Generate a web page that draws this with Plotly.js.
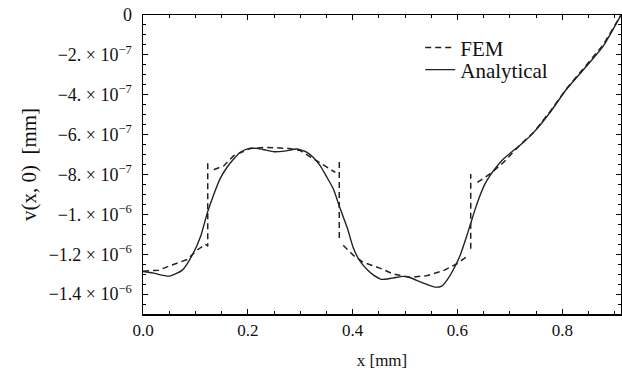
<!DOCTYPE html>
<html>
<head>
<meta charset="utf-8">
<script src="https://cdn.plot.ly/plotly-3.0.1.min.js"></script>
<style>html,body{margin:0;padding:0;background:#fff;}#chart{width:622px;height:373px;}</style>
</head>
<body>
<div id="chart"></div>
<script>
// Analytical solution v(x,0) [mm], values in units of 1e-6 mm
const anaX = [0, 0.02, 0.05, 0.075, 0.095, 0.11, 0.123, 0.135, 0.147, 0.16, 0.173, 0.185, 0.198, 0.217, 0.235, 0.25, 0.27, 0.294, 0.313, 0.325, 0.338, 0.35, 0.363, 0.376, 0.39, 0.4015, 0.415, 0.427, 0.44, 0.455, 0.475, 0.497, 0.51, 0.522, 0.54, 0.557, 0.57, 0.58, 0.592, 0.605, 0.615, 0.624, 0.633, 0.643, 0.652, 0.662, 0.675, 0.6875, 0.7066, 0.72, 0.745, 0.7765, 0.808, 0.8465, 0.878, 0.912];
const anaY = [-1.287, -1.295, -1.31, -1.28, -1.2, -1.11, -0.99, -0.9, -0.822, -0.765, -0.7225, -0.69, -0.6725, -0.669, -0.678, -0.686, -0.683, -0.6725, -0.689, -0.715, -0.756, -0.81, -0.872, -0.97, -1.07, -1.17, -1.239, -1.275, -1.305, -1.326, -1.32, -1.311, -1.318, -1.331, -1.35, -1.365, -1.36, -1.33, -1.278, -1.206, -1.13, -1.056, -0.98, -0.906, -0.85, -0.806, -0.76, -0.7225, -0.68, -0.652, -0.59, -0.489, -0.3725, -0.256, -0.156, 0];

// FEM solution (null = break between elements)
const femX = [0, 0.03, 0.052, 0.084, 0.103, 0.119, 0.1235, 0.1235, null, 0.135, 0.154, 0.173, 0.205, 0.236, 0.275, 0.30, 0.332, 0.355, 0.367, null, 0.3745, 0.3745, null, 0.382, 0.4015, 0.42, 0.452, 0.478, 0.51, 0.541, 0.573, 0.599, 0.619, null, 0.6253, 0.6253, null, 0.638, 0.662, 0.6875, 0.7066, 0.72, 0.745, 0.7765, 0.808, 0.8465, 0.878, 0.912];
const femY = [-1.285, -1.28, -1.257, -1.227, -1.18, -1.15, -1.16, -0.73, null, -0.776, -0.757, -0.706, -0.669, -0.664, -0.669, -0.68, -0.73, -0.77, -0.79, null, -0.737, -1.125, null, -1.155, -1.206, -1.24, -1.27, -1.30, -1.316, -1.308, -1.283, -1.248, -1.21, null, -1.1725, -0.7975, null, -0.84, -0.7975, -0.74, -0.69, -0.65, -0.59, -0.485, -0.37, -0.25, -0.15, 0];

const xTickVals = [0, 0.2, 0.4, 0.6, 0.8];
const xTickText = ["0.0", "0.2", "0.4", "0.6", "0.8"];
const yTickVals = [0, -0.2, -0.4, -0.6, -0.8, -1.0, -1.2, -1.4];
const yTickText = ["0", "\u22122. \u00d7 10<sup>\u22127</sup>", "\u22124. \u00d7 10<sup>\u22127</sup>", "\u22126. \u00d7 10<sup>\u22127</sup>", "\u22128. \u00d7 10<sup>\u22127</sup>", "\u22121. \u00d7 10<sup>\u22126</sup>", "\u22121.2 \u00d7 10<sup>\u22126</sup>", "\u22121.4 \u00d7 10<sup>\u22126</sup>"];

const scale = 1e-6;
const toMM = a => a.map(v => v === null ? null : v * scale);

const traces = [
  {x: femX, y: toMM(femY), name: 'FEM', mode: 'lines', connectgaps: false, legend: 'legend',
   line: {color: '#222', width: 1.5, dash: '6px,4px'}},
  {x: anaX, y: toMM(anaY), name: 'Analytical', mode: 'lines', legend: 'legend2',
   line: {color: '#222', width: 1.4, shape: 'spline', smoothing: 0.6}}
];

const font = {family: '"Liberation Serif", "Times New Roman", serif', color: '#111'};
const legendCommon = {xanchor: 'left', yanchor: 'middle', bgcolor: 'rgba(0,0,0,0)',
                      font: Object.assign({size: 21}, font), borderwidth: 0};
const layout = {
  width: 622, height: 373,
  margin: {l: 143, r: 1, t: 15, b: 59},
  paper_bgcolor: '#fff', plot_bgcolor: '#fff',
  font: Object.assign({size: 17}, font),
  showlegend: true,
  legend: Object.assign({x: 0.58, y: 0.89}, legendCommon),
  legend2: Object.assign({x: 0.58, y: 0.816}, legendCommon),
  xaxis: {
    range: [0, 0.912], tickmode: 'array', tickvals: xTickVals, ticktext: xTickText,
    ticks: 'inside', ticklen: 5, tickwidth: 1, tickcolor: '#000',
    showline: true, linecolor: '#000', linewidth: 1.5, mirror: 'allticks',
    showgrid: false, zeroline: false,
    minor: {tickmode: 'linear', tick0: 0, dtick: 0.05, ticks: 'inside', ticklen: 3, tickcolor: '#000', showgrid: false},
    tickfont: Object.assign({size: 17}, font),
    title: {text: 'x [mm]', font: Object.assign({size: 17}, font), standoff: 15}
  },
  yaxis: {
    range: [-1.5e-6, 0], tickmode: 'array', tickvals: toMM(yTickVals), ticktext: yTickText,
    ticks: 'inside', ticklen: 5, tickwidth: 1, tickcolor: '#000',
    showline: true, linecolor: '#000', linewidth: 1.5, mirror: 'allticks',
    showgrid: false, zeroline: false, ticklabelstandoff: 6,
    minor: {tickmode: 'linear', tick0: 0, dtick: 5e-8, ticks: 'inside', ticklen: 3, tickcolor: '#000', showgrid: false},
    tickfont: Object.assign({size: 18}, font),
    title: {text: 'v(x, 0)  [mm]', font: Object.assign({size: 21}, font), standoff: 6}
  }
};

Plotly.newPlot('chart', traces, layout, {displayModeBar: false, staticPlot: true});
</script>
</body>
</html>
